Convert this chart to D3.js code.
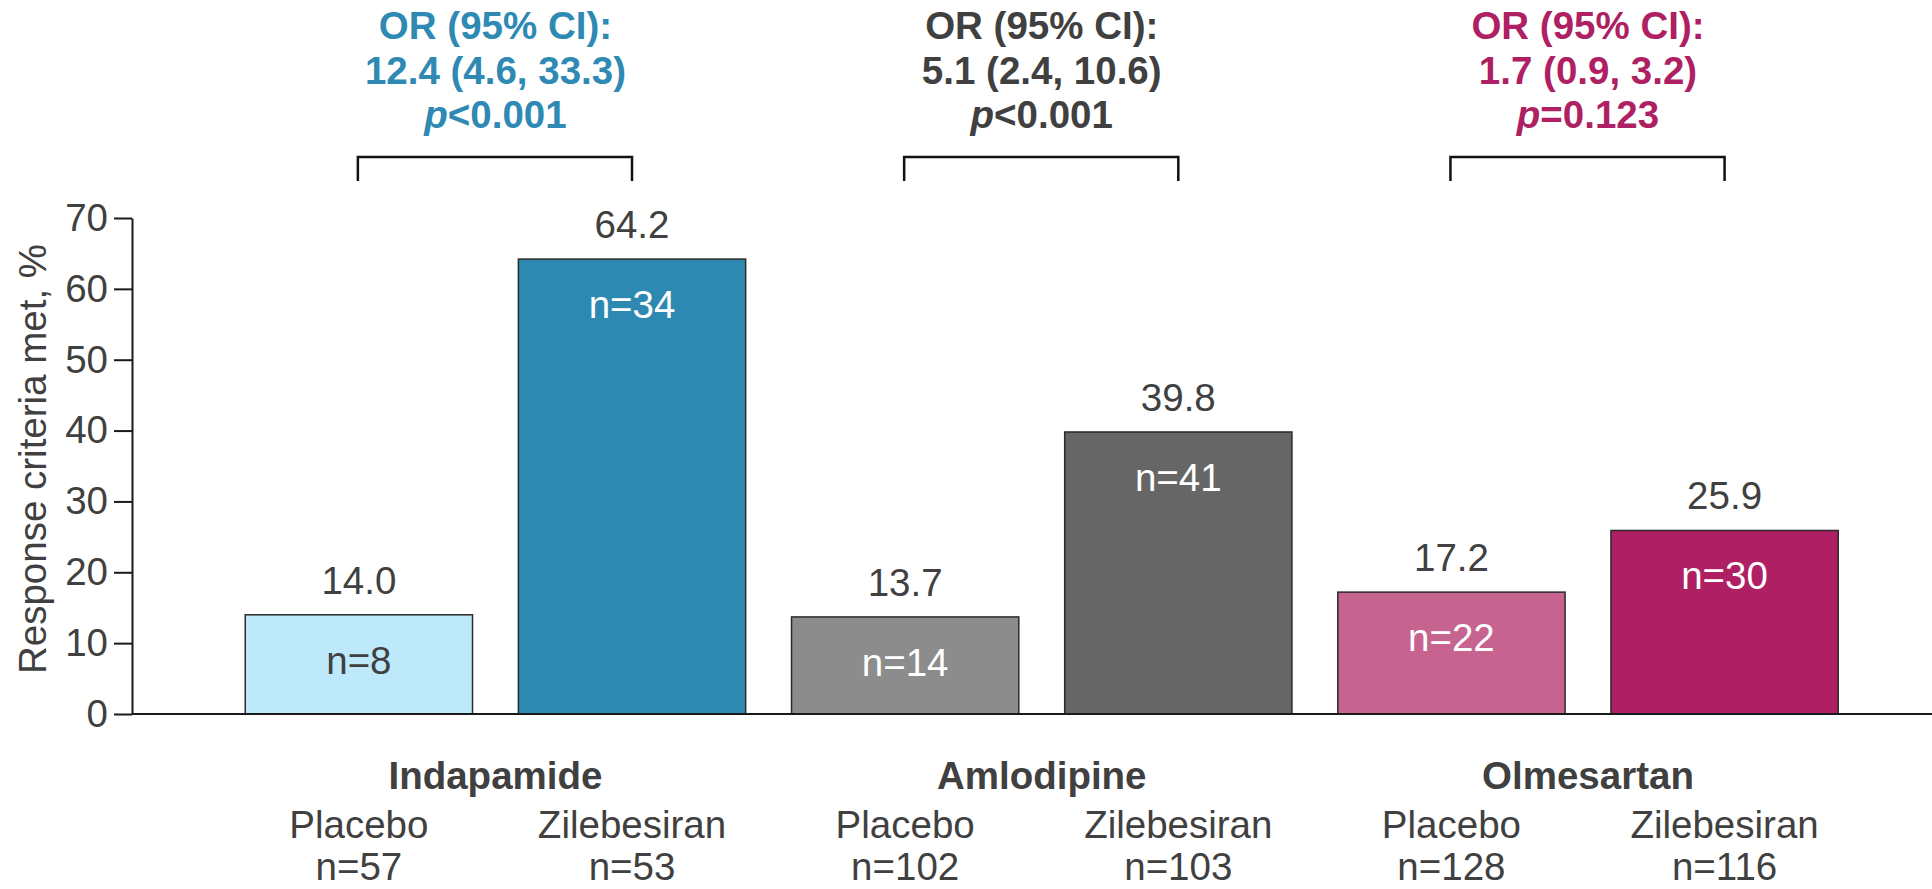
<!DOCTYPE html>
<html>
<head>
<meta charset="utf-8">
<script src="https://cdn.jsdelivr.net/npm/d3@7"></script>
<style>
  html, body { margin: 0; padding: 0; background: #fff; }
  svg { display: block; font-family: "Liberation Sans", Arial, Helvetica, sans-serif; }
</style>
</head>
<body>
<svg id="chart" width="1932" height="889"></svg>
<script>
// Background therapy groups and randomised arms
const drugs = ["Indapamide", "Amlodipine", "Olmesartan"];
const arms = ["Placebo", "Zilebesiran"];

// Response criteria met (%), in drug-then-arm order
const responsePct = [14.0, 64.2, 13.7, 39.8, 17.2, 25.9];
// Responders per arm
const respondersN = [8, 34, 14, 41, 22, 30];
// Arm sizes
const armTotalN = [57, 53, 102, 103, 128, 116];

// Odds ratios per drug
const orEstimate = ["12.4 (4.6, 33.3)", "5.1 (2.4, 10.6)", "1.7 (0.9, 3.2)"];
const pValue = ["<0.001", "<0.001", "=0.123"];

// Y axis ticks
const yTicks = [0, 10, 20, 30, 40, 50, 60, 70];

// Styling
const barFill = ["#bde9fb", "#2e89b2", "#8c8c8c", "#666666", "#c7638f", "#ae1f63"];
const insideText = ["#404040", "#ffffff", "#ffffff", "#ffffff", "#ffffff", "#ffffff"];
const drugColor = ["#2e8ab3", "#404040", "#ae1f63"];
const textColor = "#404040";
const FS = 38.5;

const bars = [];
drugs.forEach((d, i) => arms.forEach((a, j) => {
  const k = i * arms.length + j;
  bars.push({ key: d + "|" + a, drug: d, drugIndex: i, arm: a, armIndex: j,
              pct: responsePct[k], n: respondersN[k], total: armTotalN[k], idx: k });
}));

const svg = d3.select("#chart");

const y = d3.scaleLinear().domain([0, 70]).range([714, 218]);
const x = d3.scaleBand()
  .domain(bars.map(b => b.key))
  .range([132, 1932])
  .paddingInner(0.168)
  .paddingOuter(0.379)
  .align(0.547);

const groupCenter = i => {
  const k0 = x(drugs[i] + "|" + arms[0]);
  const k1 = x(drugs[i] + "|" + arms[arms.length - 1]) + x.bandwidth();
  return (k0 + k1) / 2;
};
const barCenter = b => x(b.key) + x.bandwidth() / 2;

// Y axis
const yAxis = svg.append("g")
  .attr("transform", "translate(132,0)")
  .call(d3.axisLeft(y).tickValues(yTicks).tickSize(18).tickSizeOuter(0).tickPadding(6));
yAxis.select(".domain").attr("stroke", "#1a1a1a").attr("stroke-width", 2);
yAxis.selectAll(".tick line").attr("stroke", "#1a1a1a").attr("stroke-width", 2);
yAxis.selectAll(".tick text")
  .attr("font-size", FS)
  .attr("font-family", "'Liberation Sans', Arial, sans-serif")
  .attr("fill", textColor);

// Y axis title
svg.append("text")
  .attr("transform", `translate(46,459) rotate(-90)`)
  .attr("text-anchor", "middle")
  .attr("font-size", FS)
  .attr("fill", textColor)
  .text("Response criteria met, %");

// Bars
svg.append("g").selectAll("rect")
  .data(bars)
  .join("rect")
  .attr("x", b => x(b.key))
  .attr("y", b => y(b.pct))
  .attr("width", x.bandwidth())
  .attr("height", b => y(0) - y(b.pct))
  .attr("fill", b => barFill[b.idx])
  .attr("stroke", "#2a2a2a")
  .attr("stroke-width", 1.5);

// X baseline
svg.append("line")
  .attr("x1", 132).attr("x2", 1932)
  .attr("y1", y(0)).attr("y2", y(0))
  .attr("stroke", "#1a1a1a").attr("stroke-width", 2);

// Value labels above bars
svg.append("g").selectAll("text")
  .data(bars)
  .join("text")
  .attr("x", barCenter)
  .attr("y", b => y(b.pct) - 21)
  .attr("text-anchor", "middle")
  .attr("font-size", FS)
  .attr("fill", textColor)
  .text(b => b.pct.toFixed(1));

// Responder counts inside bars
svg.append("g").selectAll("text")
  .data(bars)
  .join("text")
  .attr("x", barCenter)
  .attr("y", b => y(b.pct) + 59)
  .attr("text-anchor", "middle")
  .attr("font-size", FS)
  .attr("fill", b => insideText[b.idx])
  .text(b => "n=" + b.n);

// Drug names below axis
svg.append("g").selectAll("text")
  .data(drugs)
  .join("text")
  .attr("x", (d, i) => groupCenter(i))
  .attr("y", 789)
  .attr("text-anchor", "middle")
  .attr("font-size", FS)
  .attr("font-weight", "bold")
  .attr("fill", textColor)
  .text(d => d);

// Arm names and sizes
const armLabels = svg.append("g").selectAll("text")
  .data(bars)
  .join("text")
  .attr("text-anchor", "middle")
  .attr("font-size", FS)
  .attr("fill", textColor);
armLabels.append("tspan").attr("x", barCenter).attr("y", 838).text(b => b.arm);
armLabels.append("tspan").attr("x", barCenter).attr("y", 880).text(b => "n=" + b.total);

// Comparison brackets
const bracketTop = 157, bracketBottom = 181;
svg.append("g").selectAll("path")
  .data(drugs)
  .join("path")
  .attr("d", (d, i) => {
    const x0 = barCenter(bars[i * 2]) - 1;
    const x1 = barCenter(bars[i * 2 + 1]);
    return `M${x0},${bracketBottom}V${bracketTop}H${x1}V${bracketBottom}`;
  })
  .attr("fill", "none")
  .attr("stroke", "#111")
  .attr("stroke-width", 2.5);

// Odds ratio annotations
const orGroup = svg.append("g").selectAll("text")
  .data(drugs)
  .join("text")
  .attr("text-anchor", "middle")
  .attr("font-size", FS)
  .attr("font-weight", "bold")
  .attr("fill", (d, i) => drugColor[i]);
orGroup.each(function (d, i) {
  const cx = (barCenter(bars[i * 2]) + barCenter(bars[i * 2 + 1])) / 2;
  const t = d3.select(this);
  t.append("tspan").attr("x", cx).attr("y", 39).text("OR (95% CI):");
  t.append("tspan").attr("x", cx).attr("y", 84).text(orEstimate[i]);
  const l3 = t.append("tspan").attr("x", cx).attr("y", 128);
  l3.append("tspan").attr("font-style", "italic").text("p");
  l3.append("tspan").text(pValue[i]);
});
</script>
</body>
</html>
